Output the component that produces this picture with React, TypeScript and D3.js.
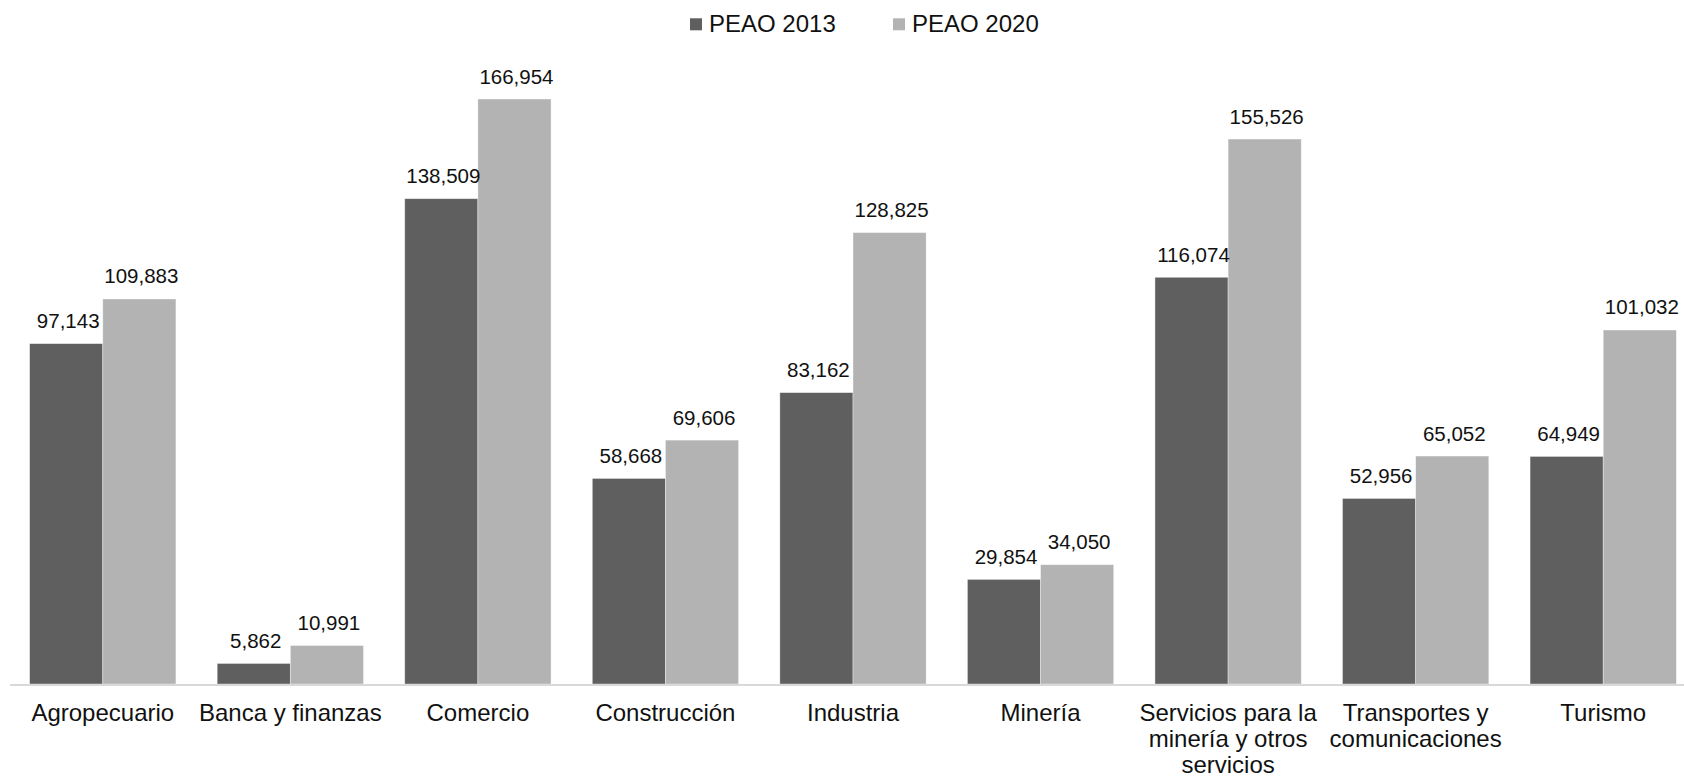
import React, { useMemo } from "react";
import * as d3 from "d3";

const categories = [
  "Agropecuario",
  "Banca y finanzas",
  "Comercio",
  "Construcción",
  "Industria",
  "Minería",
  "Servicios para la minería y otros servicios",
  "Transportes y comunicaciones",
  "Turismo",
];
const seriesNames = ["PEAO 2013", "PEAO 2020"];
const peao2013 = [97143, 5862, 138509, 58668, 83162, 29854, 116074, 52956, 64949];
const peao2020 = [109883, 10991, 166954, 69606, 128825, 34050, 155526, 65052, 101032];
const colors = ["#5f5f5f", "#b3b3b3"];

const W = 1684;
const H = 778;
const FONT = "'Liberation Sans', Arial, Helvetica, sans-serif";

function wrap(text: string, maxW: number, fontSize: number): string[] {
  const canvas = document.createElement("canvas");
  const ctx = canvas.getContext("2d")!;
  ctx.font = `${fontSize}px 'Liberation Sans', Arial, sans-serif`;
  const words = text.split(" ");
  const lines: string[] = [];
  let cur = "";
  for (const w of words) {
    const t = cur ? cur + " " + w : w;
    if (ctx.measureText(t).width > maxW && cur) {
      lines.push(cur);
      cur = w;
    } else cur = t;
  }
  if (cur) lines.push(cur);
  return lines;
}

export default function App() {
  const x0 = d3.scaleBand<string>().domain(categories).range([9, 1697]).paddingInner(0.22).paddingOuter(0.11);
  const x1 = d3.scaleBand<number>().domain([0, 1]).range([0, x0.bandwidth()]);
  const y = d3.scaleLinear().domain([0, 180000]).range([684, 53.3]);
  const fmt = d3.format(",");
  const series = [peao2013, peao2020];
  const wrapped = useMemo(() => categories.map((c) => wrap(c, 186, 24)), []);

  return (
    <svg width={W} height={H} style={{ position: "absolute", left: 0, top: 0, background: "#fff" }}>
      {/* legend */}
      {seriesNames.map((s, i) => {
        const lx = [690, 893][i];
        return (
          <g key={s}>
            <rect x={lx} y={18.3} width={12} height={12} fill={colors[i]} />
            <text x={lx + 19} y={32.3} fontFamily={FONT} fontSize={24} fill="#111">{s}</text>
          </g>
        );
      })}
      {/* bars */}
      {categories.map((c, ci) => (
        <g key={c} transform={`translate(${x0(c)},0)`}>
          {series.map((vals, si) => (
            <rect
              key={si}
              x={x1(si)}
              y={y(vals[ci])}
              width={x1.bandwidth()}
              height={y(0) - y(vals[ci])}
              fill={colors[si]}
              stroke="#ffffff"
              strokeOpacity={0.5}
              strokeWidth={0.75}
            />
          ))}
          {series.map((vals, si) => (
            <text
              key={"l" + si}
              x={x1(si)! + x1.bandwidth() / 2 + 2}
              y={y(vals[ci]) - 15.5}
              textAnchor="middle"
              fontFamily={FONT}
              fontSize={20.5}
              fill="#111"
            >
              {fmt(vals[ci])}
            </text>
          ))}
        </g>
      ))}
      {/* axis line */}
      <line x1={10} x2={W} y1={y(0) + 1} y2={y(0) + 1} stroke="#d9d9d9" strokeWidth={2} />
      {/* category labels */}
      {categories.map((c, ci) => (
        <text
          key={"c" + c}
          x={x0(c)! + x0.bandwidth() / 2}
          y={721.3}
          textAnchor="middle"
          fontFamily={FONT}
          fontSize={24}
          fill="#111"
        >
          {wrapped[ci].map((ln, li) => (
            <tspan key={li} x={x0(c)! + x0.bandwidth() / 2} dy={li === 0 ? 0 : 25.8}>{ln}</tspan>
          ))}
        </text>
      ))}
    </svg>
  );
}
